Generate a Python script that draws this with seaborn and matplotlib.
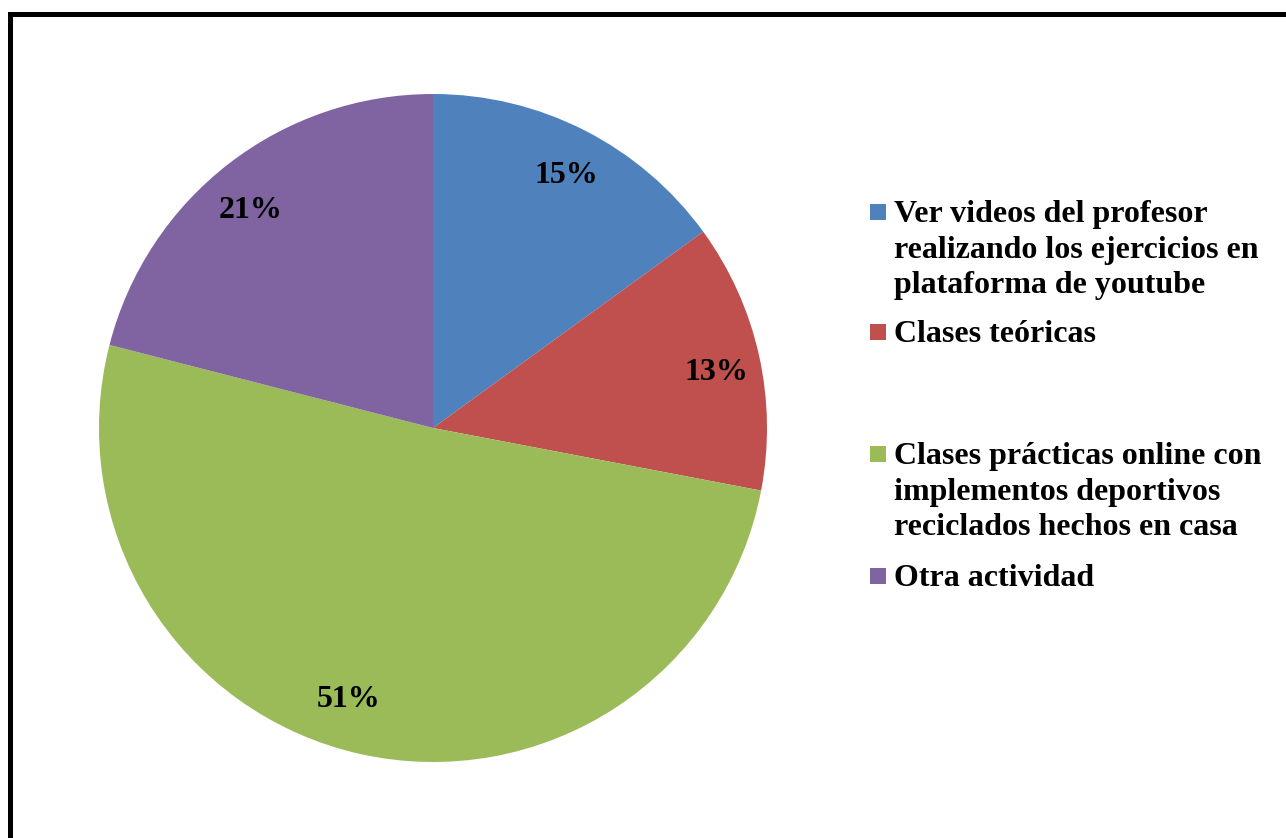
import matplotlib
matplotlib.use("Agg")
import matplotlib.pyplot as plt
from matplotlib.lines import Line2D
from matplotlib.patches import Rectangle
import seaborn as sns

# Survey answers: preferred activity type
categories = [
    "Ver videos del profesor\nrealizando los ejercicios en\nplataforma de youtube",
    "Clases teóricas",
    "Clases prácticas online con\nimplementos deportivos\nreciclados hechos en casa",
    "Otra actividad",
]
shares = [15, 13, 51, 21]
colors = ["#4F81BD", "#C0504D", "#9BBB59", "#8064A2"]

sns.set_theme(style="white")
plt.rcParams["font.family"] = ["Liberation Serif", "DejaVu Serif"]

W, H = 1286, 838
DPI = 100
fig = plt.figure(figsize=(W / DPI, H / DPI), dpi=DPI)
fig.patch.set_facecolor("white")

FS = 23

# pie placed by pixel box: centre (433, 428), radius 334
cx, cy, r = 433, 428, 334
ax = fig.add_axes([(cx - r) / W, (H - cy - r) / H, 2 * r / W, 2 * r / H])
wedges, texts, autotexts = ax.pie(
    shares,
    colors=colors,
    startangle=90,
    counterclock=False,
    autopct="%1.0f%%",
    pctdistance=0.86,
    radius=1.0,
    wedgeprops=dict(linewidth=0),
    textprops=dict(fontsize=FS, fontweight="bold", color="black"),
)
# small best-fit nudges of the value labels (pixels, screen y downwards)
nudges = [(3, 0), (3, 4), (-22, -12), (-6, 6)]
for t, (dx, dy) in zip(autotexts, nudges):
    x, y = t.get_position()
    t.set_position((x + dx / r, y - dy / r))
    t.set_va("center_baseline")
ax.set_xlim(-1, 1)
ax.set_ylim(-1, 1)
ax.set_aspect("equal")
ax.axis("off")

# legend drawn entry by entry, one text per line
text_x = 894
sq_x, sq = 870, 16
first_baselines = [222, 342, 464, 586]
line_step = 35.5
for label, col, base in zip(categories, colors, first_baselines):
    for i, line in enumerate(label.split("\n")):
        fig.text(text_x / W, 1 - (base + i * line_step) / H, line, fontsize=FS,
                 fontweight="bold", ha="left", va="baseline", color="black")
    sq_cy = base - 10
    fig.add_artist(Rectangle((sq_x / W, 1 - (sq_cy + sq / 2) / H), sq / W, sq / H,
                             transform=fig.transFigure, facecolor=col,
                             edgecolor="none"))

# outer border: top and left rules
lw = 3.6
fig.add_artist(Line2D([10 / W, 1.0], [1 - 14 / H, 1 - 14 / H],
                      transform=fig.transFigure, color="black", linewidth=lw,
                      solid_capstyle="projecting"))
fig.add_artist(Line2D([10 / W, 10 / W], [1 - 14 / H, 0.0],
                      transform=fig.transFigure, color="black", linewidth=lw,
                      solid_capstyle="projecting"))

fig.savefig("out.png", dpi=DPI, facecolor="white")
